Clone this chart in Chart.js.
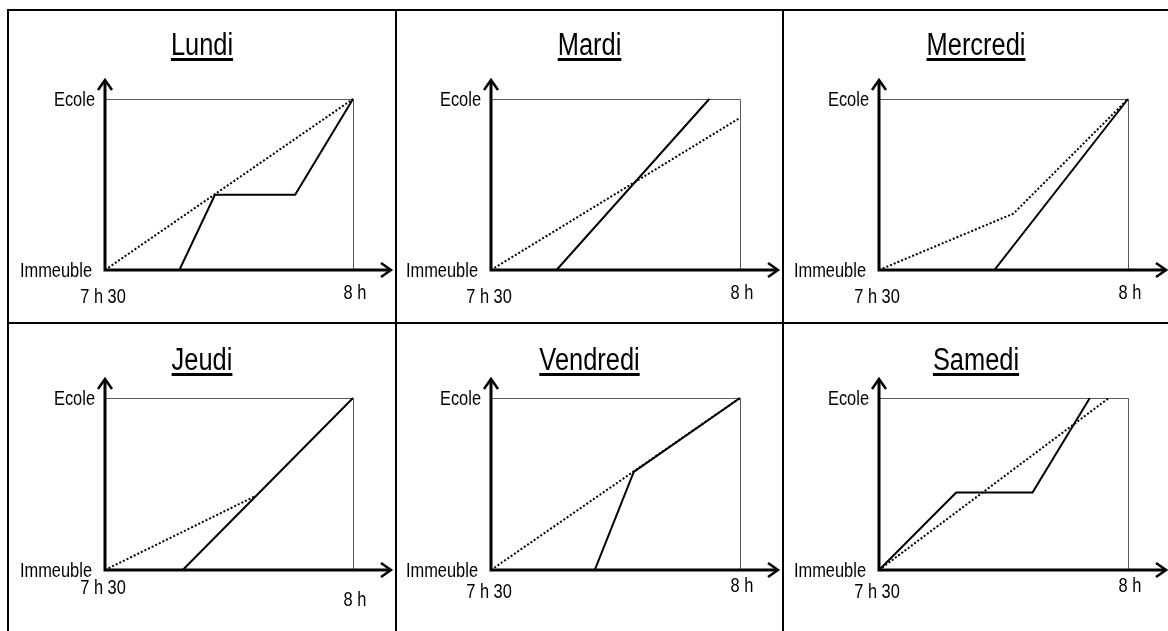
<!DOCTYPE html>
<html>
<head>
<meta charset="utf-8">
<script src="https://cdn.jsdelivr.net/npm/chart.js@4.4.1/dist/chart.umd.min.js"></script>
<style>
  body { margin: 0; background: #fff; width: 1168px; height: 631px; overflow: hidden; position: relative; }
  .rule { position: absolute; background: #000; }
  canvas { position: absolute; }
</style>
</head>
<body>
<div class="rule" style="left:7px;top:9px;width:2px;height:622px"></div>
<div class="rule" style="left:395px;top:9px;width:2px;height:622px"></div>
<div class="rule" style="left:782px;top:9px;width:2px;height:622px"></div>
<div class="rule" style="left:7px;top:9px;width:1161px;height:2px"></div>
<div class="rule" style="left:7px;top:322px;width:1161px;height:2px"></div>

<script>
// days and axis labels
const days = ['Lundi', 'Mardi', 'Mercredi', 'Jeudi', 'Vendredi', 'Samedi'];
const placeLabels = ['Immeuble', 'Ecole'];
const timeLabels = ['7 h 30', '8 h'];
const timeMax = 30; // minutes after 7 h 30

// [minutes, distance] : 0 = Immeuble, 1 = Ecole
const lundiWalk = [[0, 0], [9, 0], [13.3, 0.44], [23, 0.44], [30, 1]];
const lundiPlan = [[0, 0], [30, 1]];
const mardiWalk = [[0, 0], [7.9, 0], [26.3, 1]];
const mardiPlan = [[0, 0], [30, 0.89]];
const mercrediWalk = [[0, 0], [13.9, 0], [30, 1]];
const mercrediPlan = [[0, 0], [16.2, 0.33], [30, 1]];
const jeudiWalk = [[0, 0], [9.4, 0], [30, 1]];
const jeudiPlan = [[0, 0], [18.2, 0.43]];
const vendrediWalk = [[0, 0], [12.5, 0], [17.2, 0.57], [30, 1]];
const vendrediPlan = [[0, 0], [30, 1]];
const samediWalk = [[0, 0], [9.3, 0.45], [18.5, 0.45], [25.4, 1]];
const samediPlan = [[0, 0], [27.7, 1]];

const walks = [lundiWalk, mardiWalk, mercrediWalk, jeudiWalk, vendrediWalk, samediWalk];
const plans = [lundiPlan, mardiPlan, mercrediPlan, jeudiPlan, vendrediPlan, samediPlan];

// where each panel sits on the page
const colLeft = [9, 397, 784];
const colWidth = [386, 385, 384];
const padLeft = [96, 94, 95];
const padRight = [42, 42, 40];
const rowTop = [11, 324];
const rowHeight = [311, 307];
const padTop = [88, 74];
const padBottom = [52, 61];
const titleBase = [44, 46];
// vertical offset of the time labels under the x axis
const startLabelDy = [27, 27, 27, 18, 22, 22];
const endLabelDy = [23, 23, 23, 30, 16, 16];

const narrow = 0.82;
const fontName = '"Liberation Sans", Arial, sans-serif';

// narrow text, like Arial Narrow
const drawText = (ctx, text, x, y, size, align, baseline) => {
    ctx.save();
    ctx.font = size + 'px ' + fontName;
    ctx.textBaseline = baseline || 'middle';
    ctx.textAlign = 'left';
    const w = ctx.measureText(text).width * narrow;
    const left = align === 'right' ? x - w : align === 'center' ? x - w / 2 : x;
    ctx.translate(left, y);
    ctx.scale(narrow, 1);
    ctx.fillStyle = '#000';
    ctx.fillText(text, 0, 0);
    ctx.restore();
    return { left, w };
};

const framePlugin = {
    id: 'frame',
    beforeDatasetsDraw(chart) {
        const { ctx, scales: { x, y } } = chart;
        const x0 = x.getPixelForValue(0), x1 = x.getPixelForValue(timeMax);
        const y0 = y.getPixelForValue(0), y1 = y.getPixelForValue(1);
        ctx.save();
        ctx.strokeStyle = '#5a5a5a';
        ctx.lineWidth = 1;
        ctx.beginPath();
        ctx.moveTo(x0, y1 + 0.5);
        ctx.lineTo(x1 + 0.5, y1 + 0.5);
        ctx.lineTo(x1 + 0.5, y0);
        ctx.stroke();
        ctx.restore();
    },
    afterDatasetsDraw(chart, args, opts) {
        const { ctx, scales: { x, y } } = chart;
        const x0 = x.getPixelForValue(0), x1 = x.getPixelForValue(timeMax);
        const y0 = y.getPixelForValue(0), y1 = y.getPixelForValue(1);
        const yTip = y1 - 19, xTip = x1 + 38;

        ctx.save();
        ctx.strokeStyle = '#000';
        ctx.lineWidth = 3;
        ctx.beginPath();
        ctx.moveTo(x0, y0 + 1.5);
        ctx.lineTo(x0, yTip + 1);
        ctx.moveTo(x0 - 1.5, y0);
        ctx.lineTo(xTip - 1, y0);
        ctx.stroke();

        // open arrow heads
        ctx.lineWidth = 2.5;
        ctx.lineJoin = 'miter';
        ctx.beginPath();
        ctx.moveTo(x0 - 7, yTip + 10);
        ctx.lineTo(x0, yTip);
        ctx.lineTo(x0 + 7, yTip + 10);
        ctx.moveTo(xTip - 10, y0 - 7);
        ctx.lineTo(xTip, y0);
        ctx.lineTo(xTip - 10, y0 + 7);
        ctx.stroke();
        ctx.restore();

        drawText(ctx, placeLabels[1], x0 - 10, y1 + 1, 20, 'right');
        drawText(ctx, placeLabels[0], x0 - 13, y0 + 1, 20, 'right');
        drawText(ctx, timeLabels[0], x0 - 2, y0 + opts.startDy, 20, 'center');
        drawText(ctx, timeLabels[1], x1 + 2, y0 + opts.endDy, 20, 'center');

        // underlined title
        const t = drawText(ctx, opts.title, chart.width / 2, opts.titleY, 31, 'center', 'alphabetic');
        ctx.fillStyle = '#000';
        ctx.fillRect(t.left, opts.titleY + 3, t.w, 3);
    }
};

const toPoints = (list) => list.map(p => ({ x: p[0], y: p[1] }));

days.forEach((day, i) => {
    const col = i % 3, row = Math.floor(i / 3);
    const canvas = document.createElement('canvas');
    canvas.width = colWidth[col];
    canvas.height = rowHeight[row];
    canvas.style.left = colLeft[col] + 'px';
    canvas.style.top = rowTop[row] + 'px';
    document.body.appendChild(canvas);

    new Chart(canvas.getContext('2d'), {
        type: 'line',
        data: {
            datasets: [{
                data: toPoints(walks[i]),
                borderColor: '#000',
                borderWidth: 2,
                pointRadius: 0,
                tension: 0,
                fill: false,
                clip: false
            }, {
                data: toPoints(plans[i]),
                borderColor: '#000',
                borderWidth: 2,
                borderDash: [2, 2],
                pointRadius: 0,
                tension: 0,
                fill: false,
                clip: false
            }]
        },
        options: {
            responsive: false,
            animation: false,
            events: [],
            layout: {
                padding: { left: padLeft[col], right: padRight[col], top: padTop[row], bottom: padBottom[row] }
            },
            scales: {
                x: { type: 'linear', min: 0, max: timeMax, display: false },
                y: { type: 'linear', min: 0, max: 1, display: false }
            },
            plugins: {
                legend: { display: false },
                tooltip: { enabled: false },
                frame: {
                    title: day,
                    titleY: titleBase[row],
                    startDy: startLabelDy[i],
                    endDy: endLabelDy[i]
                }
            }
        },
        plugins: [framePlugin]
    });
});
</script>
</body>
</html>
